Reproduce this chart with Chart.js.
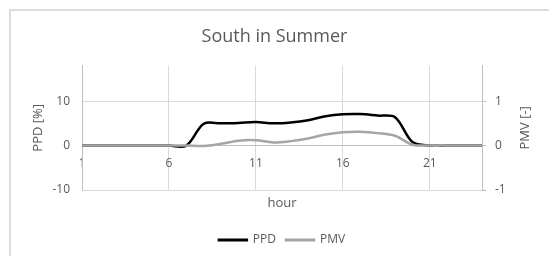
<!DOCTYPE html>
<html>
<head>
<meta charset="utf-8">
<script src="https://cdn.jsdelivr.net/npm/chart.js@4.4.1/dist/chart.umd.min.js"></script>
<style>
    body { margin: 0; background: #fff; }
    #wrap { position: relative; width: 549px; height: 256px; overflow: hidden; }
    #frame { position: absolute; left: 9px; top: 9px; width: 700px; height: 400px; border: 2px solid #dcdcdc; }
    canvas { position: absolute; left: 0; top: 0; }
</style>
</head>
<body>
<div id="wrap">
    <div id="frame"></div>
    <canvas id="chart" width="549" height="256"></canvas>
</div>
<script>
// Datos
const hours = ['1', '2', '3', '4', '5', '6', '7', '8', '9', '10', '11', '12',
    '13', '14', '15', '16', '17', '18', '19', '20', '21', '22', '23', '24'];
const ppd = [0, 0, 0, 0, 0, 0, 0, 4.9, 5.0, 5.1, 5.3, 5.0,
    5.2, 5.7, 6.6, 7.05, 7.1, 6.75, 6.4, 0.8, 0, 0, 0, 0];
const pmv = [0, 0, 0, 0, 0, 0, 0, -0.01, 0.04, 0.11, 0.12, 0.07,
    0.10, 0.16, 0.25, 0.30, 0.31, 0.28, 0.22, 0.02, 0, 0, 0, 0];

const colors = {
    text: '#595959',
    grid: '#d9d9d9',
    axis: '#bfbfbf',
    ppd: '#000000',
    pmv: '#a5a5a5'
};
const font = 'Open Sans';

// Título del eje derecho, girado como en Excel (de abajo hacia arriba)
const rightTitle = {
    id: 'rightTitle',
    afterDraw(chart) {
        const { ctx, chartArea } = chart;
        const scale = chart.scales.y1;
        ctx.save();
        ctx.translate(scale.right - 24, (chartArea.top + chartArea.bottom) / 2);
        ctx.rotate(-Math.PI / 2);
        ctx.font = `13px "${font}"`;
        ctx.fillStyle = colors.text;
        ctx.textAlign = 'center';
        ctx.textBaseline = 'middle';
        ctx.fillText('PMV [-]', 0, 0);
        ctx.restore();
    }
};

new Chart(document.getElementById('chart'), {
    type: 'line',
    data: {
        labels: hours,
        datasets: [
            {
                label: 'PPD',
                data: ppd,
                yAxisID: 'y',
                borderColor: colors.ppd,
                backgroundColor: colors.ppd,
                borderWidth: 2.5,
                pointRadius: 0,
                tension: 0.33,
                order: 1
            },
            {
                label: 'PMV',
                data: pmv,
                yAxisID: 'y1',
                borderColor: colors.pmv,
                backgroundColor: colors.pmv,
                borderWidth: 2.5,
                pointRadius: 0,
                tension: 0.33,
                order: 0
            }
        ]
    },
    options: {
        responsive: false,
        animation: false,
        layout: { padding: { left: 0, right: 0, top: 0, bottom: 0 } },
        plugins: {
            title: {
                display: true,
                text: 'South in Summer',
                color: colors.text,
                font: { family: font, size: 18, weight: 'normal' },
                padding: { top: 26, bottom: 18 }
            },
            legend: {
                position: 'bottom',
                fullSize: false,
                labels: {
                    color: colors.text,
                    font: { family: font, size: 12 },
                    boxWidth: 28,
                    boxHeight: 0.5,
                    padding: 10,
                    sort: (a, b) => a.datasetIndex - b.datasetIndex
                }
            },
            tooltip: { enabled: false }
        },
        scales: {
            x: {
                type: 'category',
                position: 'bottom',
                afterFit: s => { s.height = 34; },
                grid: {
                    color: ctx => (ctx.index % 5 === 0 ? colors.grid : 'transparent'),
                    drawTicks: false
                },
                border: { display: false },
                ticks: { display: false },
                title: {
                    display: true,
                    text: 'hour',
                    color: colors.text,
                    font: { family: font, size: 13 },
                    padding: { top: 0, bottom: 13 }
                }
            },
            x2: {
                type: 'category',
                position: { y: 0 },
                grid: { display: false, drawTicks: false },
                border: { display: true, color: colors.axis, width: 1 },
                ticks: {
                    color: colors.text,
                    font: { family: font, size: 12 },
                    autoSkip: false,
                    maxRotation: 0,
                    padding: 11,
                    callback: function (v, i) {
                        return i % 5 === 0 ? this.getLabelForValue(v) : '';
                    }
                }
            },
            y: {
                position: 'left',
                min: -10,
                max: 18,
                afterFit: s => { s.width = 82; },
                grid: { color: colors.grid, drawTicks: false },
                border: { color: colors.axis },
                ticks: {
                    stepSize: 10,
                    includeBounds: false,
                    color: colors.text,
                    font: { family: font, size: 12 },
                    padding: 12
                },
                title: {
                    display: true,
                    text: 'PPD [%]',
                    color: colors.text,
                    font: { family: font, size: 13 },
                    padding: { top: 30, bottom: 0 }
                }
            },
            y1: {
                position: 'right',
                min: -1,
                max: 1.8,
                afterFit: s => { s.width = 67; },
                grid: { drawOnChartArea: false, color: colors.axis, tickLength: 4 },
                border: { color: colors.axis },
                ticks: {
                    stepSize: 1,
                    includeBounds: false,
                    color: colors.text,
                    font: { family: font, size: 12 },
                    padding: 9
                }
            }
        }
    },
    plugins: [rightTitle]
});
</script>
</body>
</html>
